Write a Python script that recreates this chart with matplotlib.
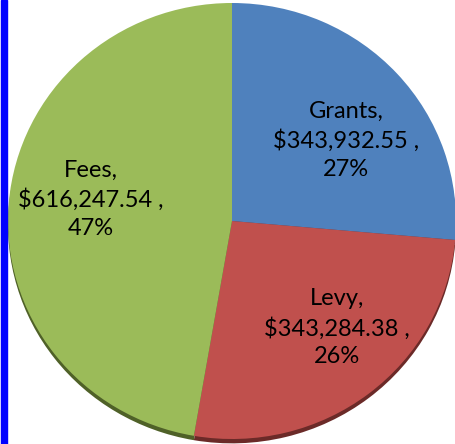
import matplotlib.pyplot as plt

# data
labels = ["Grants", "Levy", "Fees"]
amounts = [343932.55, 343284.38, 616247.54]
pct_labels = ["27%", "26%", "47%"]
colors = ["#4F81BD", "#C0504D", "#9BBB59"]
shade = ["#2E4A6E", "#6B2A28", "#4F6128"]

# label centres in pie units
label_xy = [(0.51, 0.37), (0.47, -0.49), (-0.63, 0.10)]

fig = plt.figure(figsize=(4.56, 4.44), dpi=100)
ax = fig.add_axes([0, 0, 1, 1])

# 1 pie unit = 224 px across, 218 px high (the pie is slightly squashed)
rx, ry = 224.0, 218.0
cx, cy = 232.0, 444 - 221.0

# dark underside (the 3D rim)
ax.pie(amounts, colors=shade, startangle=90, counterclock=False,
       center=(0, -0.02), radius=1.0, frame=True)
wedges, _ = ax.pie(amounts, colors=colors, startangle=90, counterclock=False,
                   radius=1.0, frame=True)
ax.set_xlim(-cx / rx, (456 - cx) / rx)
ax.set_ylim(-cy / ry, (444 - cy) / ry)
ax.set_aspect("auto")
ax.axis("off")

for name, val, pct, (x, y) in zip(labels, amounts, pct_labels, label_xy):
    txt = f"{name},\n${val:,.2f} ,\n{pct}"
    ax.text(x, y, txt, ha="center", va="center", fontsize=17,
            family="Lato", linespacing=1.4, color="black")

# blue frame line on the left edge
fig.patches.append(plt.Rectangle((0.002, 0), 6 / 456, 1, transform=fig.transFigure,
                                 color="#0000FF", zorder=5))

fig.savefig("out.png", dpi=100)
